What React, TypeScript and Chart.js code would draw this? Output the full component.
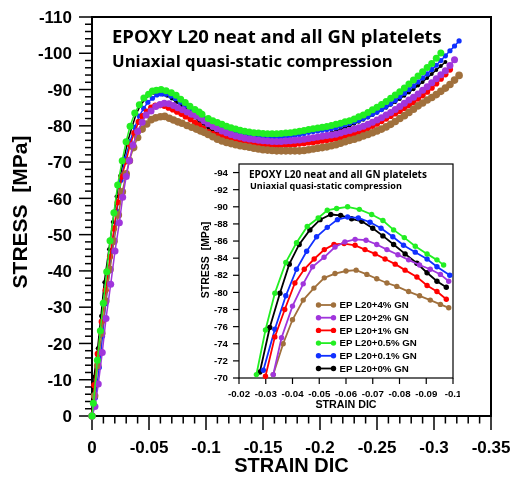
import React, { useEffect, useRef } from "react";
import { Chart, registerables } from "chart.js";

Chart.register(...registerables);

// ---------------- data ----------------
const seriesLabels = ["EP L20+4% GN", "EP L20+2% GN", "EP L20+1% GN", "EP L20+0.5% GN", "EP L20+0.1% GN", "EP L20+0% GN"];
const seriesColors = ["#a0703c", "#a035dc", "#ff0000", "#22ee22", "#1030ff", "#000000"];

// elastic + peak region (strain, stress) per series
const brownHeadStrain = [0, -0.0023, -0.005, -0.0086, -0.0121, -0.0158, -0.0193, -0.0231, -0.0266, -0.03, -0.0328, -0.0365, -0.04, -0.044, -0.048, -0.0519, -0.0559, -0.06, -0.0638, -0.0678, -0.0715, -0.0753, -0.079, -0.0834, -0.0875, -0.0915, -0.0953, -0.0984];
const brownHeadStress = [0, -5.6, -13.9, -22.8, -31.7, -40.4, -48.2, -55.4, -61.8, -66.8, -70.4, -74.0, -76.8, -79.1, -80.5, -81.7, -82.2, -82.5, -82.6, -82.1, -81.6, -81.1, -80.7, -80.1, -79.6, -79.1, -78.6, -78.2];

const purpleHeadStrain = [0, -0.0026, -0.0055, -0.009, -0.0123, -0.0164, -0.0202, -0.024, -0.0269, -0.03, -0.0328, -0.0359, -0.04, -0.044, -0.0475, -0.0518, -0.0559, -0.0596, -0.0634, -0.0675, -0.0715, -0.0753, -0.0794, -0.0834, -0.0875, -0.0915, -0.0953, -0.0984];
const purpleHeadStress = [0, -2.6, -8.8, -17.5, -26.9, -36.3, -45.5, -53.3, -60.3, -66.0, -70.4, -74.7, -78.4, -81.0, -83.0, -84.1, -85.3, -85.9, -86.2, -86.1, -85.6, -85.0, -84.4, -83.8, -83.2, -82.7, -82.1, -81.3];

const redHeadStrain = [0, -0.002, -0.005, -0.0085, -0.012, -0.0158, -0.0193, -0.0225, -0.026, -0.0299, -0.0334, -0.0371, -0.0409, -0.0444, -0.0481, -0.0519, -0.0555, -0.0593, -0.0634, -0.0671, -0.0709, -0.0746, -0.0784, -0.0821, -0.0865, -0.0903, -0.094, -0.0975];
const redHeadStress = [0, -8.5, -17.1, -26.0, -34.7, -43.9, -51.7, -58.9, -66.0, -70.2, -74.8, -78.0, -81.1, -82.7, -83.9, -85.0, -85.6, -85.7, -85.5, -85.0, -84.5, -83.9, -83.3, -82.6, -81.8, -80.8, -80.1, -79.2];

const greenHeadStrain = [0, -0.0012, -0.0047, -0.0073, -0.0099, -0.0129, -0.0158, -0.0192, -0.0225, -0.0265, -0.0299, -0.0334, -0.0375, -0.0415, -0.0455, -0.0496, -0.053, -0.0565, -0.0606, -0.065, -0.0696, -0.0738, -0.0778, -0.0818, -0.0859, -0.0903, -0.094, -0.0965];
const greenHeadStress = [0, -3.5, -15.4, -23.5, -31.1, -39.8, -48.3, -56.0, -63.7, -70.4, -75.6, -79.9, -83.5, -85.8, -87.7, -88.7, -89.6, -89.8, -90.0, -89.7, -89.1, -88.4, -87.3, -86.4, -85.4, -84.5, -83.8, -83.2];

const blueHeadStrain = [0, -0.003, -0.0064, -0.0092, -0.012, -0.0152, -0.0185, -0.0218, -0.0255, -0.0291, -0.0334, -0.0375, -0.0415, -0.0453, -0.049, -0.053, -0.0568, -0.0606, -0.0646, -0.069, -0.0731, -0.0775, -0.0815, -0.0859, -0.0903, -0.094, -0.0988];
const blueHeadStress = [0, -5.0, -13.4, -22.0, -31.0, -40.0, -48.5, -56.5, -65.0, -70.9, -75.7, -79.6, -82.7, -84.8, -86.5, -87.6, -88.5, -88.8, -88.7, -88.2, -87.5, -86.5, -85.5, -84.7, -83.9, -83.0, -82.0];

const blackHeadStrain = [0, -0.0018, -0.005, -0.0079, -0.0108, -0.0149, -0.0182, -0.0215, -0.0247, -0.0278, -0.0315, -0.0353, -0.0388, -0.0425, -0.0465, -0.0503, -0.0543, -0.058, -0.0621, -0.0659, -0.07, -0.0738, -0.0778, -0.0821, -0.0865, -0.0903, -0.094, -0.0975];
const blackHeadStress = [0, -10.8, -18.7, -27.6, -36.9, -46.0, -53.5, -60.5, -66.2, -70.7, -75.9, -79.9, -83.3, -85.6, -87.3, -88.5, -89.1, -89.0, -88.6, -88.3, -87.5, -86.6, -85.6, -84.5, -83.4, -82.3, -81.3, -80.6];

// softening + hardening region: shared strain positions
const tailStrain = [
  -0.102, -0.106, -0.110, -0.114, -0.118, -0.122, -0.126, -0.130,
  -0.134, -0.138, -0.142, -0.146, -0.150, -0.154, -0.158, -0.162,
  -0.166, -0.170, -0.174, -0.178, -0.182, -0.186, -0.190, -0.194,
  -0.198, -0.202, -0.206, -0.210, -0.214, -0.218, -0.222, -0.226,
  -0.230, -0.234, -0.238, -0.242, -0.246, -0.250, -0.254, -0.258,
  -0.262, -0.266, -0.270, -0.274, -0.278, -0.282, -0.286, -0.290,
  -0.294, -0.298, -0.302, -0.306, -0.310, -0.314, -0.318, -0.322,
];
const brownTailStress = [
  -77.6, -77.0, -76.3, -75.8, -75.4, -75.1, -74.8, -74.5,
  -74.3, -74.1, -73.8, -73.6, -73.4, -73.3, -73.2, -73.1,
  -73.1, -73.1, -73.1, -73.1, -73.1, -73.2, -73.4, -73.6,
  -73.8, -74.0, -74.2, -74.5, -74.8, -75.2, -75.6, -76.0,
  -76.3, -76.7, -77.2, -77.6, -78.1, -78.6, -79.1, -79.7,
  -80.4, -81.2, -82.0, -82.8, -83.7, -84.6, -85.5, -86.3,
  -87.1, -87.8, -88.6, -89.5, -90.4, -91.4, -92.6, -93.9,
];
const purpleTailStress = [
  -80.6, -79.9, -79.2, -78.6, -78.1, -77.6, -77.2, -76.9,
  -76.6, -76.4, -76.2, -76.0, -75.9, -75.8, -75.7, -75.7,
  -75.7, -75.8, -75.9, -76.0, -76.1, -76.3, -76.5, -76.7,
  -76.9, -77.1, -77.3, -77.5, -77.7, -78.0, -78.4, -78.7,
  -79.1, -79.5, -79.9, -80.4, -81.0, -81.6, -82.2, -83.0,
  -83.7, -84.5, -85.3, -86.2, -87.1, -87.9, -88.8, -89.8,
  -90.8, -91.9, -93.0, -94.1, -95.2, -96.6, -98.2,
];
const redTailStress = [
  -78.3, -77.8, -77.4, -77.0, -76.6, -76.3, -76.0, -75.7,
  -75.5, -75.3, -75.1, -74.9, -74.8, -74.7, -74.7, -74.6,
  -74.7, -74.7, -74.8, -74.9, -75.1, -75.2, -75.4, -75.5,
  -75.7, -75.9, -76.1, -76.3, -76.5, -76.8, -77.1, -77.4,
  -77.8, -78.3, -78.8, -79.4, -80.0, -80.6, -81.3, -82.0,
  -82.7, -83.4, -84.1, -84.9, -85.7, -86.6, -87.5, -88.4,
  -89.4, -90.5, -91.7, -93.0, -94.2, -95.5,
];
const greenTailStress = [
  -82.0, -81.4, -80.9, -80.4, -79.9, -79.5, -79.1, -78.8,
  -78.5, -78.3, -78.1, -78.0, -77.9, -77.8, -77.8, -77.8,
  -77.9, -78.0, -78.1, -78.3, -78.5, -78.7, -79.0, -79.2,
  -79.4, -79.6, -79.8, -80.1, -80.4, -80.7, -81.1, -81.4,
  -81.9, -82.5, -83.0, -83.7, -84.4, -85.1, -85.9, -86.7,
  -87.6, -88.5, -89.4, -90.4, -91.5, -92.6, -93.7, -94.9,
  -96.1, -97.2, -98.6, -100.1,
];
const blueTailStress = [
  -81.3, -80.7, -80.2, -79.7, -79.3, -78.9, -78.5, -78.2,
  -77.9, -77.6, -77.4, -77.2, -77.0, -76.9, -76.8, -76.8,
  -76.9, -77.0, -77.2, -77.4, -77.6, -77.9, -78.2, -78.4,
  -78.6, -78.8, -79.0, -79.2, -79.5, -79.9, -80.3, -80.7,
  -81.1, -81.5, -82.0, -82.5, -83.2, -83.8, -84.5, -85.3,
  -86.1, -87.0, -88.0, -89.0, -90.0, -91.0, -92.1, -93.2,
  -94.3, -95.5, -96.7, -98.0, -99.3, -100.7, -102.0, -103.4,
];
const blackTailStress = [
  -79.4, -78.5, -77.9, -77.3, -76.8, -76.4, -76.1, -75.8,
  -75.6, -75.4, -75.3, -75.2, -75.1, -75.1, -75.1, -75.1,
  -75.2, -75.3, -75.4, -75.6, -75.8, -76.0, -76.3, -76.6,
  -76.9, -77.3, -77.7, -78.1, -78.5, -79.0, -79.5, -80.0,
  -80.6, -81.1, -81.7, -82.3, -83.0, -83.6, -84.3, -85.0,
  -85.8, -86.6, -87.4, -88.3, -89.2, -90.1, -91.1, -92.1,
  -93.2, -94.3, -95.4, -96.5, -97.6,
];

// axes
const mainXRange = [-0.35, 0];
const mainYRange = [-110, 0];
const insetXRange = [-0.1, -0.02];
const insetYRange = [-95, -70];
const mainXMinorTicks = 35; // every 0.01
const mainYMinorTicks = 55; // every 2
const insetXTickCount = 8;  // every 0.01
const insetYTickCount = 12; // every 2

const mainTitleLines = ["EPOXY L20 neat and all GN platelets", "Uniaxial quasi-static compression"];
const yTitle = "STRESS  [MPa]";
const xTitle = "STRAIN DIC";

type Pt = { x: number; y: number };

function joinSeries(headStrain: number[], headStress: number[], tailStress: number[]): Pt[] {
  const pts: Pt[] = headStrain.map((x, i) => ({ x, y: headStress[i] }));
  tailStress.forEach((y, i) => pts.push({ x: tailStrain[i], y }));
  return pts;
}

const allSeries = [
  { points: joinSeries(brownHeadStrain, brownHeadStress, brownTailStress), radius: 3.8, order: 2 },
  { points: joinSeries(purpleHeadStrain, purpleHeadStress, purpleTailStress), radius: 3.5, order: 1 },
  { points: joinSeries(redHeadStrain, redHeadStress, redTailStress), radius: 3.1, order: 3 },
  { points: joinSeries(greenHeadStrain, greenHeadStress, greenTailStress), radius: 3.5, order: 0 },
  { points: joinSeries(blueHeadStrain, blueHeadStress, blueTailStress), radius: 2.6, order: 4 },
  { points: joinSeries(blackHeadStrain, blackHeadStress, blackTailStress), radius: 2.0, order: 5 },
].map((s, i) => ({ ...s, label: seriesLabels[i], color: seriesColors[i] }));

const ARIAL = '"Liberation Sans", Arial, sans-serif';
const OPEN = '"Open Sans", "Liberation Sans", sans-serif';

function fitText(ctx: CanvasRenderingContext2D, text: string, x: number, y: number, width: number, family: string) {
  ctx.font = `bold 20px ${family}`;
  const w = ctx.measureText(text).width;
  const size = (20 * width) / w;
  ctx.font = `bold ${size}px ${family}`;
  ctx.fillText(text, x, y);
}

const fmt = (v: any) => {
  const n = Math.round(Number(v) * 1000) / 1000;
  return n === 0 ? "0" : String(n);
};

const mainDecor = {
  id: "mainDecor",
  beforeDatasetsDraw(chart: any) {
    const { ctx, chartArea: a, scales } = chart;
    const xs = scales.x;
    const ys = scales.y;
    ctx.save();
    ctx.strokeStyle = "#000";
    ctx.lineWidth = 2;
    ctx.strokeRect(a.left, a.top, a.right - a.left, a.bottom - a.top);
    ctx.lineWidth = 1.5;
    for (let i = 0; i <= mainYMinorTicks; i++) {
      const v = mainYRange[0] + ((mainYRange[1] - mainYRange[0]) * i) / mainYMinorTicks;
      const py = ys.getPixelForValue(v);
      const len = i % 5 === 0 ? 13 : 7;
      ctx.beginPath();
      ctx.moveTo(a.left - len, py);
      ctx.lineTo(a.left, py);
      ctx.stroke();
    }
    for (let i = 0; i <= mainXMinorTicks; i++) {
      const v = mainXRange[1] - ((mainXRange[1] - mainXRange[0]) * i) / mainXMinorTicks;
      const px = xs.getPixelForValue(v);
      const len = i % 5 === 0 ? 14 : 7.5;
      ctx.beginPath();
      ctx.moveTo(px, a.bottom);
      ctx.lineTo(px, a.bottom + len);
      ctx.stroke();
    }

    ctx.fillStyle = "#000";
    ctx.font = `bold 17px ${ARIAL}`;
    ctx.textAlign = "right";
    ctx.textBaseline = "middle";
    ys.ticks.forEach((t: any) => ctx.fillText(fmt(t.value), a.left - 20, ys.getPixelForValue(t.value) + 1.5));
    ctx.textAlign = "center";
    ctx.textBaseline = "alphabetic";
    xs.ticks.forEach((t: any) => ctx.fillText(fmt(t.value), xs.getPixelForValue(t.value), a.bottom + 37));

    ctx.textAlign = "left";
    fitText(ctx, mainTitleLines[0], a.left + 20, 43, 330, OPEN);
    fitText(ctx, mainTitleLines[1], a.left + 20, 66.5, 281, OPEN);

    ctx.textAlign = "center";
    ctx.textBaseline = "middle";
    ctx.font = `bold 20px ${ARIAL}`;
    ctx.fillText(xTitle, (a.left + a.right) / 2, 466.5);
    ctx.save();
    ctx.translate(21, 212);
    ctx.rotate(-Math.PI / 2);
    ctx.font = `bold 21px ${ARIAL}`;
    ctx.fillText(yTitle, 0, 0);
    ctx.restore();
    ctx.restore();
  },
};

const insetDecor = {
  id: "insetDecor",
  beforeDatasetsDraw(chart: any) {
    const { ctx, chartArea: a, scales } = chart;
    const xs = scales.x;
    const ys = scales.y;
    ctx.save();
    ctx.strokeStyle = "#000";
    ctx.lineWidth = 1.2;
    ctx.strokeRect(a.left, a.top, a.right - a.left, a.bottom - a.top);
    for (let i = 0; i <= insetYTickCount; i++) {
      const v = insetYRange[1] - 2 * i;
      const py = ys.getPixelForValue(v);
      ctx.beginPath();
      ctx.moveTo(a.left - 6, py);
      ctx.lineTo(a.left, py);
      ctx.stroke();
    }
    for (let i = 0; i <= insetXTickCount; i++) {
      const v = insetXRange[1] - 0.01 * i;
      const px = xs.getPixelForValue(v);
      ctx.beginPath();
      ctx.moveTo(px, a.bottom);
      ctx.lineTo(px, a.bottom + 6);
      ctx.stroke();
    }

    ctx.fillStyle = "#000";
    ctx.font = `bold 9.7px ${ARIAL}`;
    ctx.textAlign = "right";
    ctx.textBaseline = "middle";
    ys.ticks.forEach((t: any) => ctx.fillText(fmt(t.value), a.left - 11, ys.getPixelForValue(t.value) + 0.5));
    ctx.textAlign = "center";
    ctx.textBaseline = "alphabetic";
    xs.ticks.forEach((t: any) => ctx.fillText(fmt(t.value), xs.getPixelForValue(t.value), a.bottom + 19));

    ctx.textAlign = "left";
    fitText(ctx, mainTitleLines[0], a.left + 10, 22.5, 178, OPEN);
    fitText(ctx, mainTitleLines[1], a.left + 11, 34, 152, OPEN);

    ctx.textAlign = "center";
    ctx.textBaseline = "middle";
    ctx.font = `bold 10.7px ${ARIAL}`;
    ctx.fillText(xTitle, (a.left + a.right) / 2, 250);
    ctx.save();
    ctx.translate(11, 105);
    ctx.rotate(-Math.PI / 2);
    ctx.font = `bold 10.5px ${ARIAL}`;
    ctx.fillText(yTitle, 0, 0);
    ctx.restore();
    ctx.restore();
  },
  afterDatasetsDraw(chart: any) {
    const { ctx } = chart;
    ctx.save();
    const x0 = 123.5;
    const x1 = 138.5;
    const tx = 144.5;
    const y0 = 150;
    const dy = 12.7;
    allSeries.forEach((s, i) => {
      const y = y0 + i * dy;
      ctx.strokeStyle = s.color;
      ctx.fillStyle = s.color;
      ctx.lineWidth = 1.8;
      ctx.beginPath();
      ctx.moveTo(x0, y);
      ctx.lineTo(x1, y);
      ctx.stroke();
      [x0, x1].forEach((px) => {
        ctx.beginPath();
        ctx.arc(px, y, 2.7, 0, Math.PI * 2);
        ctx.fill();
      });
      ctx.fillStyle = "#000";
      ctx.font = `bold 9.7px ${ARIAL}`;
      ctx.textAlign = "left";
      ctx.textBaseline = "middle";
      ctx.fillText(s.label, tx, y + 0.5);
    });
    ctx.restore();
  },
};

function makeAxis(range: number[], step: number, size: number, isX: boolean) {
  return {
    type: "linear",
    min: range[0],
    max: range[1],
    reverse: true,
    grid: { display: false, drawTicks: false },
    border: { display: false },
    afterFit: (s: any) => {
      if (isX) s.height = size;
      else s.width = size;
      s.paddingLeft = 0;
      s.paddingRight = 0;
      s.paddingTop = 0;
      s.paddingBottom = 0;
    },
    ticks: { display: false, stepSize: step, includeBounds: false, autoSkip: false, maxRotation: 0 },
  };
}

export default function App() {
  const mainRef = useRef<HTMLCanvasElement | null>(null);
  const insetRef = useRef<HTMLCanvasElement | null>(null);

  useEffect(() => {
    if (!mainRef.current || !insetRef.current) return;
    const main = new Chart(mainRef.current, {
      type: "line",
      data: {
        datasets: allSeries.map((s) => ({
          label: s.label,
          data: s.points,
          borderColor: s.color,
          backgroundColor: s.color,
          pointBackgroundColor: s.color,
          pointBorderColor: s.color,
          pointBorderWidth: 0,
          pointRadius: s.radius,
          borderWidth: 1.5,
          order: s.order,
          tension: 0,
          clip: false as any,
        })),
      },
      options: {
        responsive: false,
        maintainAspectRatio: false,
        animation: false,
        events: [],
        layout: { padding: { left: 0, top: 17, right: 23, bottom: 0 } },
        plugins: { legend: { display: false }, tooltip: { enabled: false } },
        scales: {
          x: makeAxis(mainXRange, 0.05, 61, true),
          y: makeAxis(mainYRange, 10, 92, false),
        },
      },
      plugins: [mainDecor],
    } as any);

    const inset = new Chart(insetRef.current, {
      type: "line",
      data: {
        datasets: allSeries.map((s) => ({
          label: s.label,
          data: s.points.filter(
            (p) => p.x >= insetXRange[0] && p.x <= insetXRange[1] && p.y <= insetYRange[1]
          ),
          borderColor: s.color,
          backgroundColor: s.color,
          pointBackgroundColor: s.color,
          pointBorderColor: s.color,
          pointBorderWidth: 0,
          pointRadius: 2.7,
          borderWidth: 1.8,
          order: s.order,
          tension: 0,
          clip: false as any,
        })),
      },
      options: {
        responsive: false,
        maintainAspectRatio: false,
        animation: false,
        events: [],
        layout: { padding: { left: 0, top: 9, right: 7, bottom: 0 } },
        plugins: { legend: { display: false }, tooltip: { enabled: false } },
        scales: {
          x: makeAxis(insetXRange, 0.01, 36, true),
          y: makeAxis(insetYRange, 2, 44, false),
        },
      },
      plugins: [insetDecor],
    } as any);

    return () => {
      main.destroy();
      inset.destroy();
    };
  }, []);

  return (
    <div style={{ position: "absolute", left: 0, top: 0, width: 514, height: 477, background: "#fff" }}>
      <canvas ref={mainRef} width={514} height={477} style={{ position: "absolute", left: 0, top: 0 }} />
      <canvas ref={insetRef} width={265} height={259} style={{ position: "absolute", left: 195, top: 155 }} />
    </div>
  );
}
